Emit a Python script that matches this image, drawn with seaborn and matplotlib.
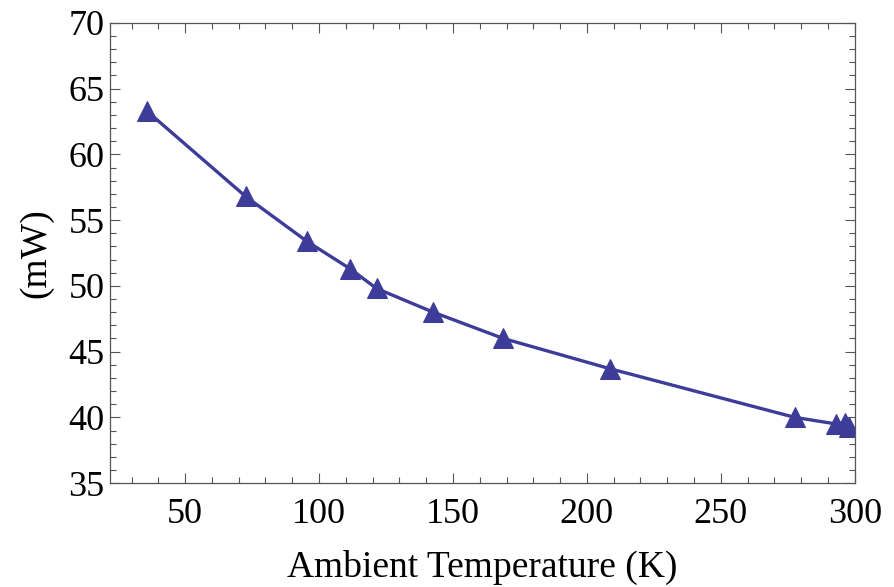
import matplotlib
matplotlib.use("Agg")
import matplotlib.pyplot as plt
import seaborn as sns
from matplotlib.ticker import MultipleLocator

# ambient temperature (K) and power (mW)
temperature = [35.7, 72.6, 95.4, 111.6, 121.5, 142.6, 168.8, 208.6, 277.6, 293.0, 296.3, 298.0]
power = [63.3, 56.8, 53.4, 51.3, 49.8, 48.0, 46.0, 43.7, 40.0, 39.5, 39.6, 39.3]

sns.set_style("ticks")
plt.rcParams['font.family'] = ['Liberation Serif', 'DejaVu Serif']

fig = plt.figure(figsize=(8.95, 5.87), dpi=100)
ax = fig.add_axes([0.123, 0.177, 0.832, 0.784])

color = '#3d3d99'
sns.lineplot(x=temperature, y=power, ax=ax, color=color, linewidth=2.4,
             marker='^', markersize=15, markeredgecolor=color,
             markerfacecolor=color, sort=False)

ax.set_xlim(22, 300)
ax.set_ylim(35, 70)
ax.xaxis.set_major_locator(MultipleLocator(50))
ax.xaxis.set_minor_locator(MultipleLocator(10))
ax.yaxis.set_major_locator(MultipleLocator(5))
ax.yaxis.set_minor_locator(MultipleLocator(1))

ax.tick_params(which='both', direction='in', top=True, right=True,
               color='#555555', labelcolor='black', labelsize=26, width=0.8)
ax.tick_params(which='major', length=7)
ax.tick_params(which='minor', length=4)
ax.tick_params(axis='x', which='major', pad=11)
ax.tick_params(axis='y', which='major', pad=4)
for sp in ax.spines.values():
    sp.set_color('#555555')
    sp.set_linewidth(0.9)

ax.set_xlabel('Ambient Temperature (K)', fontsize=27, color='black', labelpad=13)
ax.set_ylabel('(mW)', fontsize=27, color='black', labelpad=11)

fig.savefig('out.png', dpi=100)
